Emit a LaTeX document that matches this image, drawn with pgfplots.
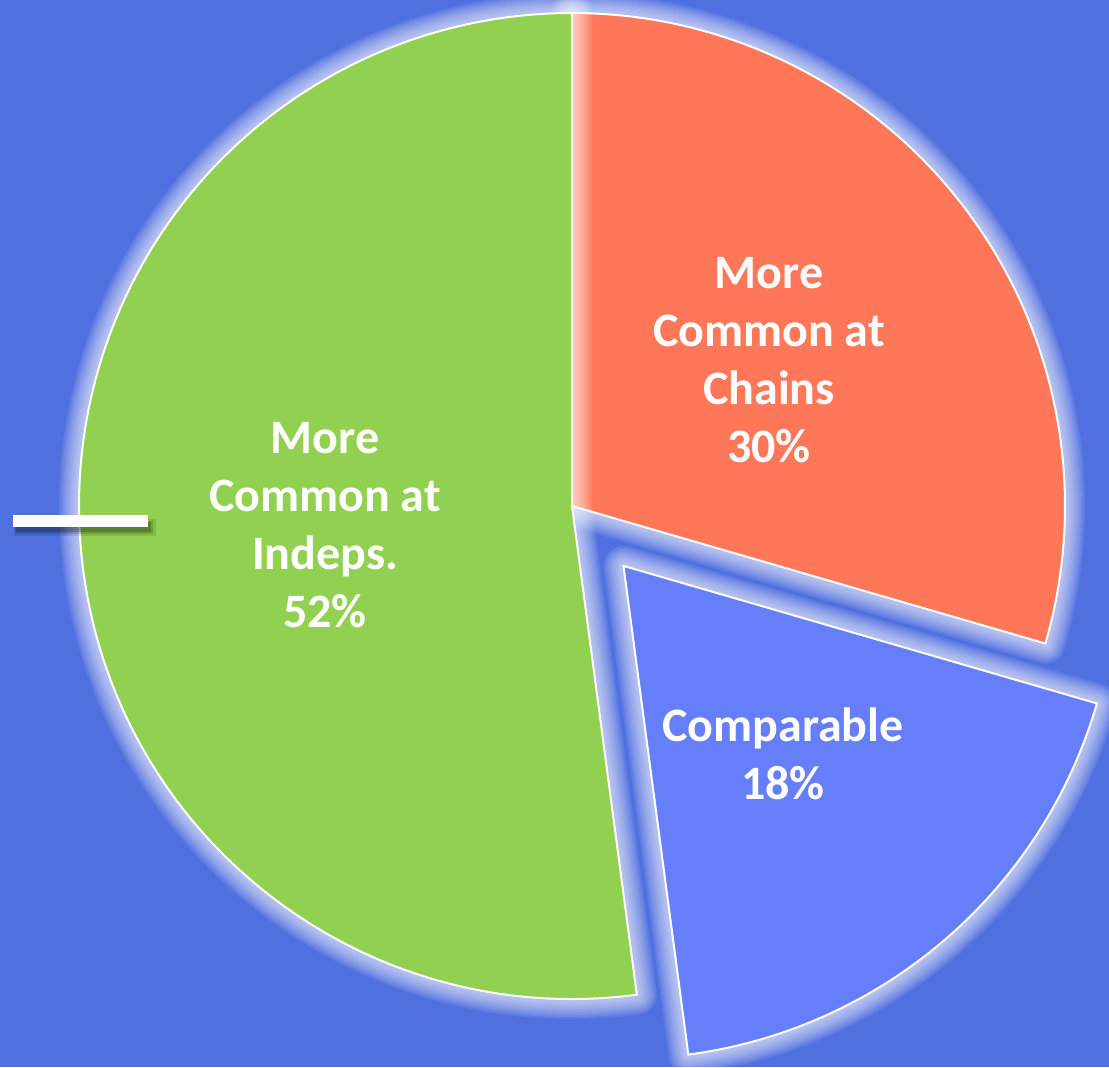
\documentclass[border=0pt]{standalone}
\usepackage{pgfplots}
\pgfplotsset{compat=1.18}
\usepackage{pgfplotstable}
\usepackage{fontspec}
\setmainfont{Carlito}
\definecolor{bg}{HTML}{5070E0}
\definecolor{slA}{HTML}{FF7759}
\definecolor{slB}{HTML}{667EFA}
\definecolor{slC}{HTML}{92D052}

\pgfplotstableread{
label value
Chains 29.5
Comparable 18.4
Indeps 52.1
}\piedata

\newcommand\glowstroke[4]{%
  \draw[white, line width=#4, opacity=0.09, line join=round] #1 -- ++(#2:246.5pt) arc[start angle=#2, end angle=#3, radius=246.5pt] -- cycle;
}
\newcommand\sliceglow[3]{%
  \glowstroke{#1}{#2}{#3}{20pt}%
  \glowstroke{#1}{#2}{#3}{18pt}%
  \glowstroke{#1}{#2}{#3}{16pt}%
  \glowstroke{#1}{#2}{#3}{14pt}%
  \glowstroke{#1}{#2}{#3}{12pt}%
  \glowstroke{#1}{#2}{#3}{10pt}%
  \glowstroke{#1}{#2}{#3}{8pt}%
  \glowstroke{#1}{#2}{#3}{6pt}%
  \glowstroke{#1}{#2}{#3}{4pt}%
}
\newcommand\slicefill[4]{%
  \fill[#4] #1 -- ++(#2:246.5pt) arc[start angle=#2, end angle=#3, radius=246.5pt] -- cycle;
  \draw[white, line width=1pt] #1 -- ++(#2:246.5pt) arc[start angle=#2, end angle=#3, radius=246.5pt] -- cycle;
}

\begin{document}
\begin{tikzpicture}
\pgfplotstablegetelem{0}{value}\of\piedata \let\vA\pgfplotsretval
\pgfplotstablegetelem{1}{value}\of\piedata \let\vB\pgfplotsretval
\pgfplotstablegetelem{2}{value}\of\piedata \let\vC\pgfplotsretval
\pgfmathsetmacro\aA{90-3.6*\vA}
\pgfmathsetmacro\aB{\aA-3.6*\vB}
\pgfmathsetmacro\aC{\aB-3.6*\vC}
\pgfmathsetmacro\mB{(\aA+\aB)/2}
\begin{axis}[x=0.5pt, y=0.5pt, xmin=0, xmax=1109, ymin=0, ymax=1067,
  hide axis, clip=true]
\fill[bg] (rel axis cs:0,0) rectangle (rel axis cs:1,1);
% Comparable (exploded)
\sliceglow{(axis cs:572,561) ++(\mB:39.5pt)}{\aA}{\aB}
\slicefill{(axis cs:572,561) ++(\mB:39.5pt)}{\aA}{\aB}{slB}
% Chains
\sliceglow{(axis cs:572,561)}{90}{\aA}
\slicefill{(axis cs:572,561)}{90}{\aA}{slA}
% Indeps
\sliceglow{(axis cs:572,561)}{\aB}{\aC}
\slicefill{(axis cs:572,561)}{\aB}{\aC}{slC}
% dash with shadow
\fill[black, opacity=0.10] (axis cs:14,531) rectangle (axis cs:156,548);
\fill[black, opacity=0.15] (axis cs:15,533) rectangle (axis cs:153,546);
\fill[black, opacity=0.20] (axis cs:16,535) rectangle (axis cs:151,545);
\fill[white] (axis cs:13,540) rectangle (axis cs:148,552);
% labels
\node[white, align=center, font=\fontsize{24}{29}\selectfont\bfseries] at (axis cs:769,707) {More\\Common at\\Chains\\30\%};
\node[white, align=center, font=\fontsize{24}{29}\selectfont\bfseries] at (axis cs:325,542) {More\\Common at\\Indeps.\\52\%};
\node[white, align=center, font=\fontsize{24}{29}\selectfont\bfseries] at (axis cs:783,313) {Comparable\\18\%};
\end{axis}
\pgfresetboundingbox
\path (current axis.south west) rectangle (current axis.north east);
\end{tikzpicture}
\end{document}
